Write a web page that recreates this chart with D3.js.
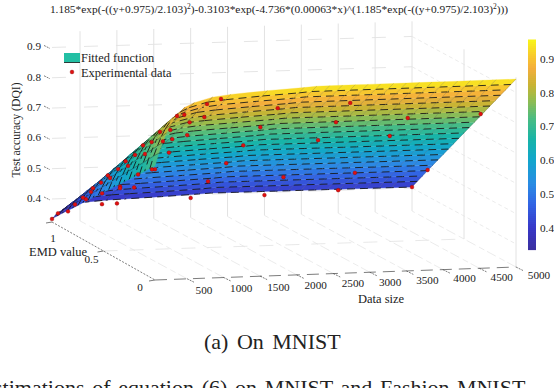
<!DOCTYPE html>
<html>
<head>
<meta charset="utf-8">
<script src="https://cdn.jsdelivr.net/npm/d3@7"></script>
<style>
  html, body { margin: 0; padding: 0; background: #fff; overflow: hidden; }
  text { font-family: "Liberation Serif", serif; fill: #222; }
</style>
</head>
<body>
<svg id="chart" width="554" height="388"></svg>
<script>
// surface grid: one row per EMD value, one column per data size
var emdGrid = [0, .05, .1, .15, .2, .25, .3, .35, .4, .45, .5, .55, .6, .65, .7, .75, .8, .85, .9, .95, 1];
var sizeGrid = [0, 60, 120, 180, 240, 350, 470, 600, 850, 1100, 1600, 2100];
var plateauSizes = [2275, 2450, 2625, 2800, 2975, 3150, 3325, 3500, 3675, 3850, 4025, 4200, 4375, 4550, 4725, 5000];
var zRows = [
  [.700, .742, .777, .808, .833, .868, .890, .904, .920, .927, .935, .941],
  [.682, .723, .756, .786, .810, .844, .864, .878, .894, .900, .908, .914],
  [.664, .703, .735, .763, .787, .820, .839, .852, .867, .874, .881, .887],
  [.645, .682, .714, .741, .764, .795, .813, .826, .841, .847, .854, .860],
  [.627, .663, .693, .719, .740, .770, .788, .800, .814, .820, .827, .833],
  [.609, .643, .672, .696, .717, .746, .763, .774, .788, .793, .800, .806],
  [.591, .624, .651, .674, .694, .721, .738, .748, .761, .767, .773, .779],
  [.572, .603, .629, .652, .671, .697, .712, .722, .735, .740, .746, .752],
  [.554, .584, .608, .629, .647, .672, .687, .697, .708, .713, .719, .725],
  [.536, .564, .587, .607, .624, .648, .662, .671, .682, .686, .692, .698],
  [.518, .544, .566, .585, .601, .623, .636, .645, .655, .660, .666, .671],
  [.499, .524, .545, .562, .578, .598, .611, .619, .629, .633, .639, .644],
  [.481, .504, .524, .540, .555, .574, .585, .593, .602, .606, .612, .617],
  [.463, .485, .503, .518, .531, .549, .560, .567, .576, .579, .585, .590],
  [.445, .465, .482, .496, .508, .525, .535, .542, .549, .553, .558, .563],
  [.426, .445, .460, .473, .485, .500, .509, .516, .523, .526, .531, .536],
  [.408, .425, .439, .451, .462, .476, .484, .490, .496, .499, .504, .509],
  [.390, .405, .418, .429, .438, .451, .459, .464, .470, .472, .477, .482],
  [.372, .386, .397, .407, .415, .427, .434, .438, .443, .446, .450, .455],
  [.353, .365, .375, .384, .392, .402, .408, .412, .417, .419, .423, .428],
  [.335, .346, .354, .362, .369, .377, .383, .386, .390, .392, .396, .401]
];
// height of the flat part of the surface (data size above 2100), per EMD row
var plateauZ = [.944, .917, .890, .863, .836, .809, .782, .755, .728, .701, .674, .647, .620, .593, .566, .539, .512, .485, .458, .431, .403];

// experimental data
var pointSize = [5000, 5000, 5000, 4000, 4013, 3015, 4003, 4006, 3042, 3056, 2992, 2002, 2025, 2038, 2050, 2048, 3000, 2000, 965, 774, 956, 828, 609, 427, 1013, 809, 637, 410, 639, 910, 1010, 970, 428, 583, 824, 1017, 437, 571, 458, 456, 827, 855, 1001, 502, 428, 654, 798, 420, 409, 411, 473, 420, 336, 286, 107, 0, 500];
var pointEmd = [1, .85, .34, 1, .85, .83, .51, .34, .52, .36, .18, .18, .36, .53, .7, .87, 1, 1, 0, 0, .15, .2, .1, .05, .35, .35, .25, .2, .32, .45, .65, .65, .37, .45, .68, .85, .45, .6, .55, .62, .85, .87, 1, .72, .7, .9, 1, .76, .83, .85, .93, .93, .96, 1, 1, 1, .33];
var pointAcc = [.403, .487, .766, .400, .485, .482, .670, .761, .662, .751, .849, .840, .743, .651, .560, .468, .391, .389, .913, .898, .825, .799, .845, .852, .727, .715, .766, .771, .715, .651, .557, .557, .694, .649, .536, .459, .647, .581, .607, .568, .463, .454, .378, .519, .532, .433, .377, .497, .465, .449, .409, .415, .387, .357, .352, .334, .712];

var sizeTicks = [500, 1000, 1500, 2000, 2500, 3000, 3500, 4000, 4500, 5000];
var emdTicks = [0, .5, 1];
var zTicks = [.4, .5, .6, .7, .8, .9];
var barTicks = [.4, .5, .6, .7, .8, .9];
var colorStops = [.338, .40, .47, .53, .60, .66, .72, .78, .82, .87, .91, .956];
var colorHex = ['#3a2fa0', '#3838c8', '#3264e4', '#2a8ce4', '#12a6cc', '#18b4a8', '#48bc84', '#98bc4c', '#c8b434', '#f4ae3c', '#f8cc2c', '#f8f818'];

var svg = d3.select('#chart');
var color = d3.scaleLinear().domain(colorStops).range(colorHex).clamp(true);

// the box is drawn by two edges of the floor, front (EMD 0) and back (EMD 1)
var frontX = d3.scaleLinear().domain([0, 500, 5000]).range([155, 187, 516]);
var backX = d3.scaleLinear().domain([0, 500, 5000]).range([52, 80, 412]);
var frontY = d3.scaleLinear().domain([0, 5000]).range([280, 267]);
var backY = d3.scaleLinear().domain([0, 5000]).range([222, 211]);
var lift = d3.scaleLinear().domain([.324, .95]).range([0, 189.7]);

function project(size, emd, z) {
  var fx = frontX(size), fy = frontY(size);
  return [fx + emd * (backX(size) - fx), fy + emd * (backY(size) - fy) - lift(z)];
}
function seg(a, b) { return 'M' + a[0] + ',' + a[1] + 'L' + b[0] + ',' + b[1]; }

// walls and floor
var walls = [];
var wallTop = .95, wallBottom = .324;
sizeTicks.forEach(function(s) {
  walls.push({d: seg(project(s, 1, wallBottom), project(s, 1, wallTop)), dash: null, w: 1});
  walls.push({d: seg(project(s, 0, wallBottom), project(s, 1, wallBottom)), dash: '10 3 6 4', w: .7});
});
walls.push({d: seg(project(5000, .5, wallBottom), project(5000, .5, wallTop)), dash: null, w: 1});
walls.push({d: seg(project(5000, 0, wallBottom), project(5000, 0, wallTop)), dash: null, w: 1});
walls.push({d: seg(project(0, .5, wallBottom), project(5000, .5, wallBottom)), dash: '14 12', w: .8});
zTicks.forEach(function(z) {
  walls.push({d: seg(project(0, 1, z), project(5000, 1, z)), dash: '14 18', w: .9});
  walls.push({d: seg(project(5000, 1, z), project(5000, 0, z)), dash: '4 3', w: .7});
});
svg.append('g').selectAll('path').data(walls).enter().append('path')
  .attr('d', function(d) { return d.d; })
  .attr('fill', 'none')
  .attr('stroke', '#e2e2e2')
  .attr('stroke-width', function(d) { return d.w; })
  .attr('stroke-dasharray', function(d) { return d.dash; });

// axis lines of the box
var axisLines = [
  {d: seg(project(0, 1, wallBottom), project(0, 0, wallBottom)), dash: '2 1.5'},
  {d: seg(project(0, 0, wallBottom), project(5000, 0, wallBottom)), dash: '12 7'}
];
sizeTicks.forEach(function(s) {
  var p = project(s, 0, wallBottom);
  axisLines.push({d: seg(p, [p[0] + 7, p[1] + 3.5]), dash: '2 1'});
});
emdTicks.forEach(function(e) {
  var p = project(0, e, wallBottom);
  axisLines.push({d: seg(p, [p[0] - 6, p[1] + 1]), dash: null});
});
zTicks.forEach(function(z) {
  var p = project(0, 1, z);
  axisLines.push({d: seg([p[0] - 8, p[1] - 2], [p[0] - 2, p[1] + 1]), dash: '2 1'});
});
svg.append('g').selectAll('path').data(axisLines).enter().append('path')
  .attr('d', function(d) { return d.d; })
  .attr('fill', 'none')
  .attr('stroke', '#444')
  .attr('stroke-width', .7)
  .attr('stroke-dasharray', function(d) { return d.dash; });

// surface cells, far ones first so nearer ones paint over them
var allSizes = sizeGrid.concat(plateauSizes);
function zAt(i, j) { return j < sizeGrid.length ? zRows[i][j] : plateauZ[i]; }
var cells = [];
for (var i = emdGrid.length - 2; i >= 0; i--) {
  for (var j = allSizes.length - 2; j >= 0; j--) {
    cells.push({i: i, j: j,
      a: project(allSizes[j], emdGrid[i], zAt(i, j)),
      b: project(allSizes[j + 1], emdGrid[i], zAt(i, j + 1)),
      c: project(allSizes[j + 1], emdGrid[i + 1], zAt(i + 1, j + 1)),
      e: project(allSizes[j], emdGrid[i + 1], zAt(i + 1, j)),
      z: (zAt(i, j) + zAt(i, j + 1) + zAt(i + 1, j) + zAt(i + 1, j + 1)) / 4});
  }
}
var cell = svg.append('g').selectAll('g').data(cells).enter().append('g');
cell.append('path')
  .attr('d', function(d) { return 'M' + [d.a, d.b, d.c, d.e].join('L') + 'Z'; })
  .attr('fill', function(d) { return color(d.z); })
  .attr('stroke', function(d) { return color(d.z); })
  .attr('stroke-width', .3);
// the mesh shows as broken dashes in the reference. Each cell inks its far
// edges: its near edges get painted over by the next cell anyway.
cell.append('path')
  .attr('d', function(d) { return seg(d.e, d.c); })
  .attr('fill', 'none').attr('stroke', '#111').attr('stroke-width', .85)
  .attr('stroke-dasharray', '8 5')
  .attr('stroke-dashoffset', function(d) { return d.i % 2 ? 6 : 0; });
cell.append('path')
  .attr('d', function(d) { return seg(d.b, d.c); })
  .attr('fill', 'none').attr('stroke', '#111')
  .attr('stroke-opacity', function(d) { return d.j < 8 ? .6 : .35; })
  .attr('stroke-width', .5);

// experimental points
var points = pointSize.map(function(s, k) { return project(s, pointEmd[k], pointAcc[k]); });
svg.append('g').selectAll('circle').data(points).enter().append('circle')
  .attr('cx', function(d) { return d[0]; })
  .attr('cy', function(d) { return d[1]; })
  .attr('r', 1.9)
  .attr('fill', '#e01010')
  .attr('stroke', '#8a0a0a')
  .attr('stroke-width', .4);

// tick labels
var sizeLabelX = d3.scaleLinear().domain([500, 5000]).range([204, 539]);
var sizeLabelY = d3.scaleLinear().domain([500, 5000]).range([294, 279]);
svg.append('g').selectAll('text').data(sizeTicks).enter().append('text')
  .attr('x', function(d) { return sizeLabelX(d); })
  .attr('y', function(d) { return sizeLabelY(d); })
  .attr('text-anchor', 'middle').attr('font-size', 11.2)
  .text(function(d) { return d; });
svg.append('g').selectAll('text').data(emdTicks).enter().append('text')
  .attr('x', function(d) { return project(0, d, wallBottom)[0] - 15 + (d === 0 ? 0 : d === 1 ? 16 : 3); })
  .attr('y', function(d) { return project(0, d, wallBottom)[1] + 11 + (d === 1 ? 9 : d === .5 ? 1 : 0); })
  .attr('text-anchor', 'middle').attr('font-size', 11.2)
  .text(function(d) { return d; });
svg.append('g').selectAll('text').data(zTicks).enter().append('text')
  .attr('x', 41)
  .attr('y', function(d) { return project(0, 1, d)[1] + 3; })
  .attr('text-anchor', 'end').attr('font-size', 11.2)
  .text(function(d) { return d; });

// axis titles
svg.append('text').attr('x', 381).attr('y', 303).attr('text-anchor', 'middle').attr('font-size', 12.5).text('Data size');
svg.append('text').attr('x', 58).attr('y', 256).attr('text-anchor', 'middle').attr('font-size', 12.5).text('EMD value');
svg.append('text').attr('transform', 'translate(20,130) rotate(-90)').attr('text-anchor', 'middle').attr('font-size', 11.7).text('Test accuracy (DQI)');

// title, with the two squares raised
var title = svg.append('text').attr('x', 279).attr('y', 13).attr('text-anchor', 'middle').attr('font-size', 11.4);
var titleParts = [
  ['1.185*exp(-((y+0.975)/2.103)', 0], ['2', -4], [')-0.3103*exp(-4.736*(0.00063*x)^(1.185*exp(-((y+0.975)/2.103)', 4], ['2', -4], [')))', 4]
];
title.selectAll('tspan').data(titleParts).enter().append('tspan')
  .attr('dy', function(d) { return d[1]; })
  .attr('font-size', function(d) { return d[0] === '2' ? 7.5 : null; })
  .text(function(d) { return d[0]; });

// legend
svg.append('rect').attr('x', 64).attr('y', 53).attr('width', 16).attr('height', 9.5).attr('fill', '#23bfa4');
svg.append('line').attr('x1', 64).attr('x2', 80).attr('y1', 62.5).attr('y2', 62.5).attr('stroke', '#111').attr('stroke-width', .8);
svg.append('circle').attr('cx', 72).attr('cy', 72).attr('r', 1.9).attr('fill', '#e01010').attr('stroke', '#8a0a0a').attr('stroke-width', .4);
svg.append('text').attr('x', 81).attr('y', 62).attr('font-size', 12.4).text('Fitted function');
svg.append('text').attr('x', 81).attr('y', 77).attr('font-size', 12.4).text('Experimental data');

// colour bar
var barY = d3.scaleLinear().domain([.338, .956]).range([250, 40]);
var barSteps = d3.range(0, 105).map(function(k) { return .338 + k * (.956 - .338) / 105; });
svg.append('g').selectAll('rect').data(barSteps).enter().append('rect')
  .attr('x', 528).attr('width', 8)
  .attr('y', function(d) { return barY(d) - 2.5; })
  .attr('height', 2.6)
  .attr('fill', function(d) { return color(d); });
svg.append('g').selectAll('text').data(barTicks).enter().append('text')
  .attr('x', 540)
  .attr('y', function(d) { return barY(d) + 3.5; })
  .attr('font-size', 11.2)
  .text(function(d) { return d; });

// caption under the figure, the last line is cut by the page edge as in the source
svg.append('text').attr('x', 204).attr('y', 349).attr('font-size', 22).style('word-spacing', '3px').text('(a) On MNIST');
svg.append('text').attr('x', -6).attr('y', 395).attr('font-size', 22).style('word-spacing', '2.2px').text('stimations of equation (6) on MNIST and Fashion-MNIST');
</script>
</body>
</html>
